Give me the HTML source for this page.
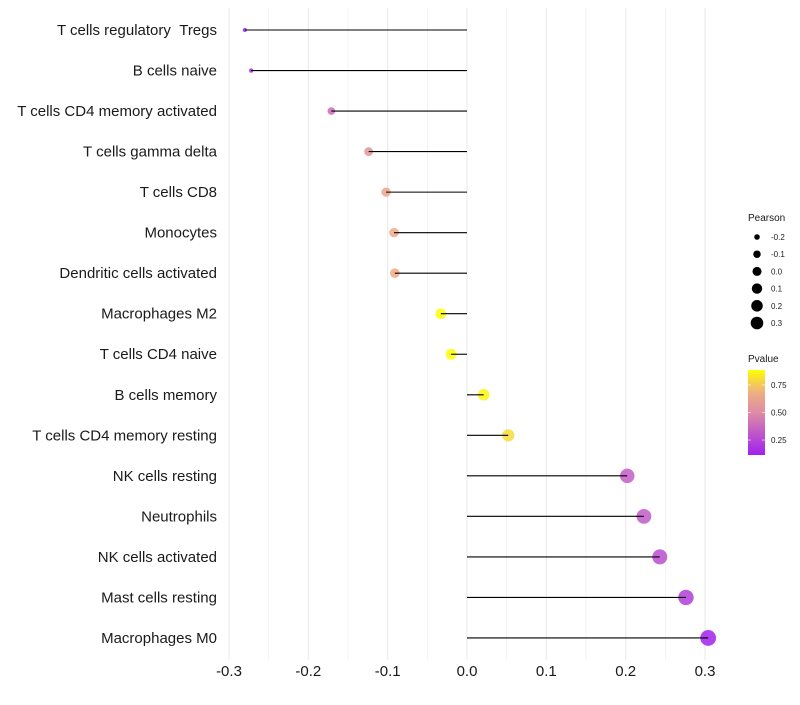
<!DOCTYPE html>
<html><head><meta charset="utf-8"><style>
body{margin:0;background:#fff;font-family:"Liberation Sans",sans-serif}
svg text{font-family:"Liberation Sans",sans-serif;white-space:pre}
</style></head><body>
<svg id="chart" width="800" height="700" xmlns="http://www.w3.org/2000/svg"></svg>
<script>
const categories=["T cells regulatory \u00a0Tregs","B cells naive","T cells CD4 memory activated","T cells gamma delta","T cells CD8","Monocytes","Dendritic cells activated","Macrophages M2","T cells CD4 naive","B cells memory","T cells CD4 memory resting","NK cells resting","Neutrophils","NK cells activated","Mast cells resting","Macrophages M0"];
const pearson=[-0.280,-0.272,-0.171,-0.124,-0.102,-0.092,-0.091,-0.033,-0.020,0.021,0.052,0.202,0.223,0.243,0.276,0.304];
const pvalue=[0.12,0.13,0.38,0.55,0.64,0.67,0.67,0.88,0.88,0.86,0.80,0.33,0.32,0.28,0.22,0.12];
const xTicks=[-0.3,-0.2,-0.1,0.0,0.1,0.2,0.3];
const xTickLabels=["-0.3","-0.2","-0.1","0.0","0.1","0.2","0.3"];
const sizeLegend=[-0.2,-0.1,0.0,0.1,0.2,0.3];
const sizeLegendLabels=["-0.2","-0.1","0.0","0.1","0.2","0.3"];
const colorLegend=[0.25,0.50,0.75];
const colorLegendLabels=["0.25","0.50","0.75"];

const svg=document.getElementById('chart');
const NS="http://www.w3.org/2000/svg";
function mk(t,a,p){const e=document.createElementNS(NS,t);for(const k in a)e.setAttribute(k,a[k]);(p||svg).appendChild(e);return e;}
const x=v=>467+(v/0.3)*238;
const y=i=>30+i*40.53;
const r=v=>Math.sqrt(Math.max(1,4+(v+0.28)*100));
const pmin=0.114,pmax=0.886;
function lerp(a,b,t){return a+(b-a)*t}
function col(p){
  const t=Math.max(0,Math.min(1,(p-pmin)/(pmax-pmin)));
  const s=[[0,[160,32,240]],[0.5,[222,140,165]],[0.75,[240,176,130]],[1,[255,255,0]]];
  let k=0;while(k<s.length-2&&t>s[k+1][0])k++;
  const a=s[k],b=s[k+1];
  const u=(t-a[0])/(b[0]-a[0]);
  return `rgb(${Math.round(lerp(a[1][0],b[1][0],u))},${Math.round(lerp(a[1][1],b[1][1],u))},${Math.round(lerp(a[1][2],b[1][2],u))})`;
}
for(let g=-0.3;g<=0.3001;g+=0.05){
  const l=mk('line',{x1:x(g),x2:x(g),y1:8,y2:660,stroke:'#ebebeb','stroke-width':Math.abs(Math.round(g*20))%2===0?1.1:0.6});
  
  
}
xTicks.forEach((v,i)=>{
  const t=mk('text',{x:x(v),y:676,'text-anchor':'middle','font-size':15,fill:'#1a1a1a'});
  t.textContent=xTickLabels[i];
  
  
});
categories.forEach((c,i)=>{
  const t=mk('text',{x:217,y:y(i)+5,'text-anchor':'end','font-size':15,fill:'#1a1a1a'});
  t.textContent=c;
  
  
  const d=mk('circle',{cx:x(pearson[i]),cy:y(i),r:r(pearson[i]),fill:col(pvalue[i]),'fill-opacity':0.85});
  
  
  const l=mk('line',{x1:x(0),x2:x(pearson[i]),y1:y(i),y2:y(i),stroke:'#000','stroke-width':1.1});
  
  
});
const lt=mk('text',{x:748,y:221,'font-size':10,fill:'#1a1a1a'});lt.textContent='Pearson';


sizeLegend.forEach((v,i)=>{
  const cy=237+i*17.2;
  const c=mk('circle',{cx:757,cy:cy,r:r(v)*0.8,fill:'#000'});
  
  
  const t=mk('text',{x:771,y:cy+3,'font-size':8,fill:'#1a1a1a'});t.textContent=sizeLegendLabels[i];
  
  
});
const ct=mk('text',{x:748,y:362,'font-size':10,fill:'#1a1a1a'});ct.textContent='Pvalue';


const defs=mk('defs',{});
const lg=mk('linearGradient',{id:'pg',x1:0,y1:1,x2:0,y2:0},defs);
for(let k=0;k<=10;k++){mk('stop',{offset:k/10,'stop-color':col(pmin+(pmax-pmin)*k/10)},lg);}
const cb=mk('rect',{x:748,y:370,width:17,height:85,fill:'url(#pg)'});


const cy=v=>455-(v-pmin)/(pmax-pmin)*85;
colorLegend.forEach((v,i)=>{
  mk('line',{x1:748,x2:751,y1:cy(v),y2:cy(v),stroke:'#fff','stroke-width':0.6});
  mk('line',{x1:762,x2:765,y1:cy(v),y2:cy(v),stroke:'#fff','stroke-width':0.6});
  const t=mk('text',{x:771,y:cy(v)+3,'font-size':8,fill:'#1a1a1a'});t.textContent=colorLegendLabels[i];
  
  
});
</script>
</body></html>
